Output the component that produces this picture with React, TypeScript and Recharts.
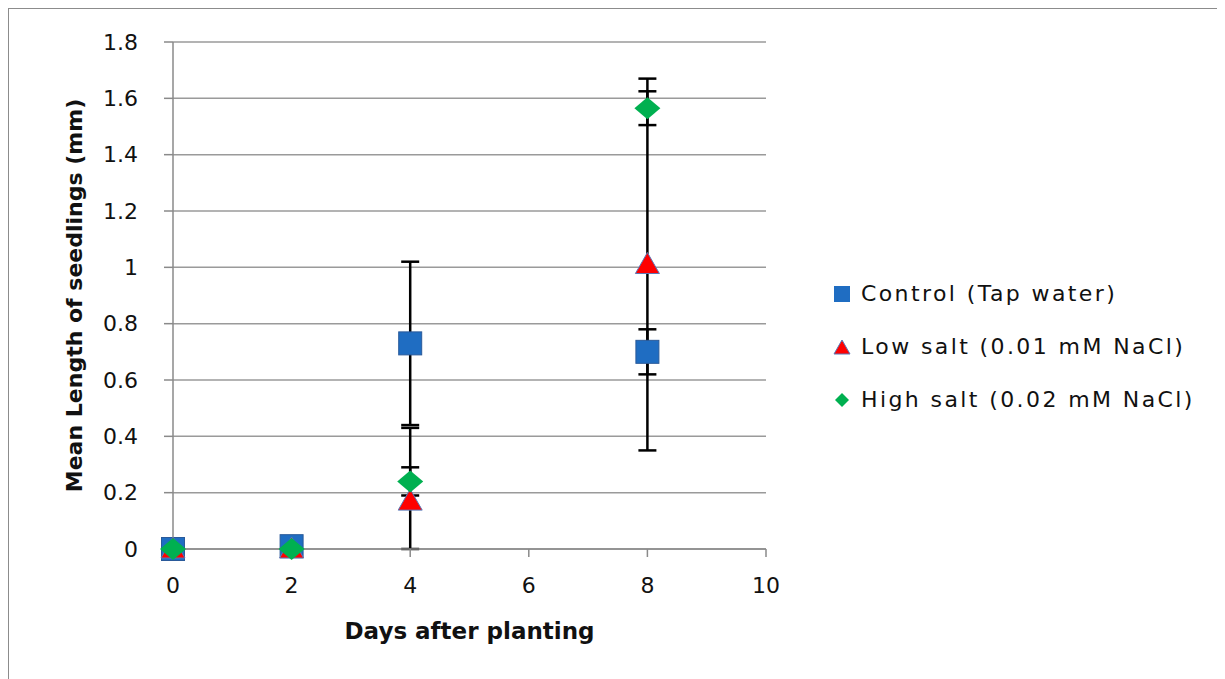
import { ScatterChart, Scatter, XAxis, YAxis, CartesianGrid, ErrorBar } from 'recharts';

// values
const controlX = [0, 2, 4, 8];
const controlY = [0, 0.01, 0.73, 0.7];
const controlErr = [0, 0, 0.29, 0.08];

const lowX = [0, 2, 4, 8];
const lowY = [0, 0, 0.17, 1.01];
const lowErr: [number, number][] = [[0, 0], [0, 0], [0.17, 0.26], [0.66, 0.66]];

const highX = [0, 2, 4, 8];
const highY = [0, 0, 0.24, 1.565];
const highErr = [0, 0, 0.05, 0.06];

const xTicks = [0, 2, 4, 6, 8, 10];
const yTicks = [0, 0.2, 0.4, 0.6, 0.8, 1, 1.2, 1.4, 1.6, 1.8];

const seriesNames = ['Control (Tap water)', 'Low salt (0.01 mM NaCl)', 'High salt (0.02 mM NaCl)'];

const FONT = '"DejaVu Sans", "Liberation Sans", sans-serif';

const controlData = controlX.map((x, i) => ({ x, y: controlY[i], err: controlErr[i] }));
const lowData = lowX.map((x, i) => ({ x, y: lowY[i], err: lowErr[i] }));
const highData = highX.map((x, i) => ({ x, y: highY[i], err: highErr[i] }));

const NoShape = () => <g />;

const SquareShape = (props: any) => {
  const { cx, cy } = props;
  return <rect x={cx - 11.5} y={cy - 11.5} width={23} height={23} fill="#1F6DC2" stroke="#2A5A9A" strokeWidth={1} />;
};

const TriangleShape = (props: any) => {
  const { cx, cy } = props;
  return (
    <polygon
      points={`${cx},${cy - 12} ${cx + 12},${cy + 9} ${cx - 12},${cy + 9}`}
      fill="#FF0000"
      stroke="#5B78B8"
      strokeWidth={1}
    />
  );
};

const DiamondShape = (props: any) => {
  const { cx, cy } = props;
  return (
    <polygon
      points={`${cx},${cy - 11} ${cx + 13},${cy} ${cx},${cy + 11} ${cx - 13},${cy}`}
      fill="#00B050"
    />
  );
};

const LegendBox = () => {
  const icons = [
    <rect x={1} y={2} width={16} height={16} fill="#1F6DC2" />,
    <polygon points="9,3 17,17 1,17" fill="#FF0000" stroke="#5B78B8" strokeWidth={1} />,
    <polygon points="9,3 16,10 9,17 2,10" fill="#00B050" />,
  ];
  return (
    <div style={{ position: 'absolute', left: 824, top: 258, fontFamily: FONT, fontSize: 22, letterSpacing: 2.4, color: '#111' }}>
      {seriesNames.map((name, i) => (
        <div key={name} style={{ display: 'flex', alignItems: 'center', height: 53, whiteSpace: 'nowrap' }}>
          <svg width={20} height={20} style={{ marginRight: 8 }}>{icons[i]}</svg>
          <span>{name}</span>
        </div>
      ))}
    </div>
  );
};

const fmt = (v: number) => String(Number(v.toFixed(1)));

export default function App() {
  return (
    <div style={{ width: 1215, height: 680, border: '1px solid #8c8c8c', boxSizing: 'border-box', position: 'relative', background: '#fff' }}>
      <ScatterChart width={1213} height={670} margin={{ top: 33, right: 456, bottom: 40, left: 34 }}>
        <CartesianGrid horizontal vertical={false} stroke="#9a9a9a" strokeWidth={1.5} />
        <XAxis
          type="number"
          dataKey="x"
          domain={[0, 10]}
          ticks={xTicks}
          stroke="#8a8a8a"
          strokeWidth={1.5}
          tickSize={8}
          tickMargin={20}
          tick={{ fill: '#111', fontSize: 22, fontFamily: FONT }}
          height={90}
          label={{ value: 'Days after planting', position: 'insideBottom', offset: 0, fill: '#111', fontSize: 23, fontWeight: 'bold', fontFamily: FONT }}
        />
        <YAxis
          type="number"
          dataKey="y"
          domain={[0, 1.8]}
          ticks={yTicks}
          tickFormatter={fmt}
          stroke="#8a8a8a"
          strokeWidth={1.5}
          tickSize={9}
          tickMargin={26}
          width={130}
          tick={{ fill: '#111', fontSize: 22, fontFamily: FONT }}
          label={{ value: 'Mean Length of seedlings (mm)', angle: -90, position: 'insideLeft', offset: 31, style: { textAnchor: 'middle' }, fill: '#111', fontSize: 22, fontWeight: 'bold', fontFamily: FONT }}
        />
        {/* error bars first so the markers sit on top of them */}
        <Scatter data={controlData} shape={<NoShape />} isAnimationActive={false}>
          <ErrorBar dataKey="err" direction="y" stroke="#000" strokeWidth={2.5} width={9} />
        </Scatter>
        <Scatter data={lowData} shape={<NoShape />} isAnimationActive={false}>
          <ErrorBar dataKey="err" direction="y" stroke="#000" strokeWidth={2.5} width={9} />
        </Scatter>
        <Scatter data={highData} shape={<NoShape />} isAnimationActive={false}>
          <ErrorBar dataKey="err" direction="y" stroke="#000" strokeWidth={2.5} width={9} />
        </Scatter>
        <Scatter name={seriesNames[0]} data={controlData} shape={<SquareShape />} isAnimationActive={false} />
        <Scatter name={seriesNames[1]} data={lowData} shape={<TriangleShape />} isAnimationActive={false} />
        <Scatter name={seriesNames[2]} data={highData} shape={<DiamondShape />} isAnimationActive={false} />
      </ScatterChart>
      <LegendBox />
    </div>
  );
}
